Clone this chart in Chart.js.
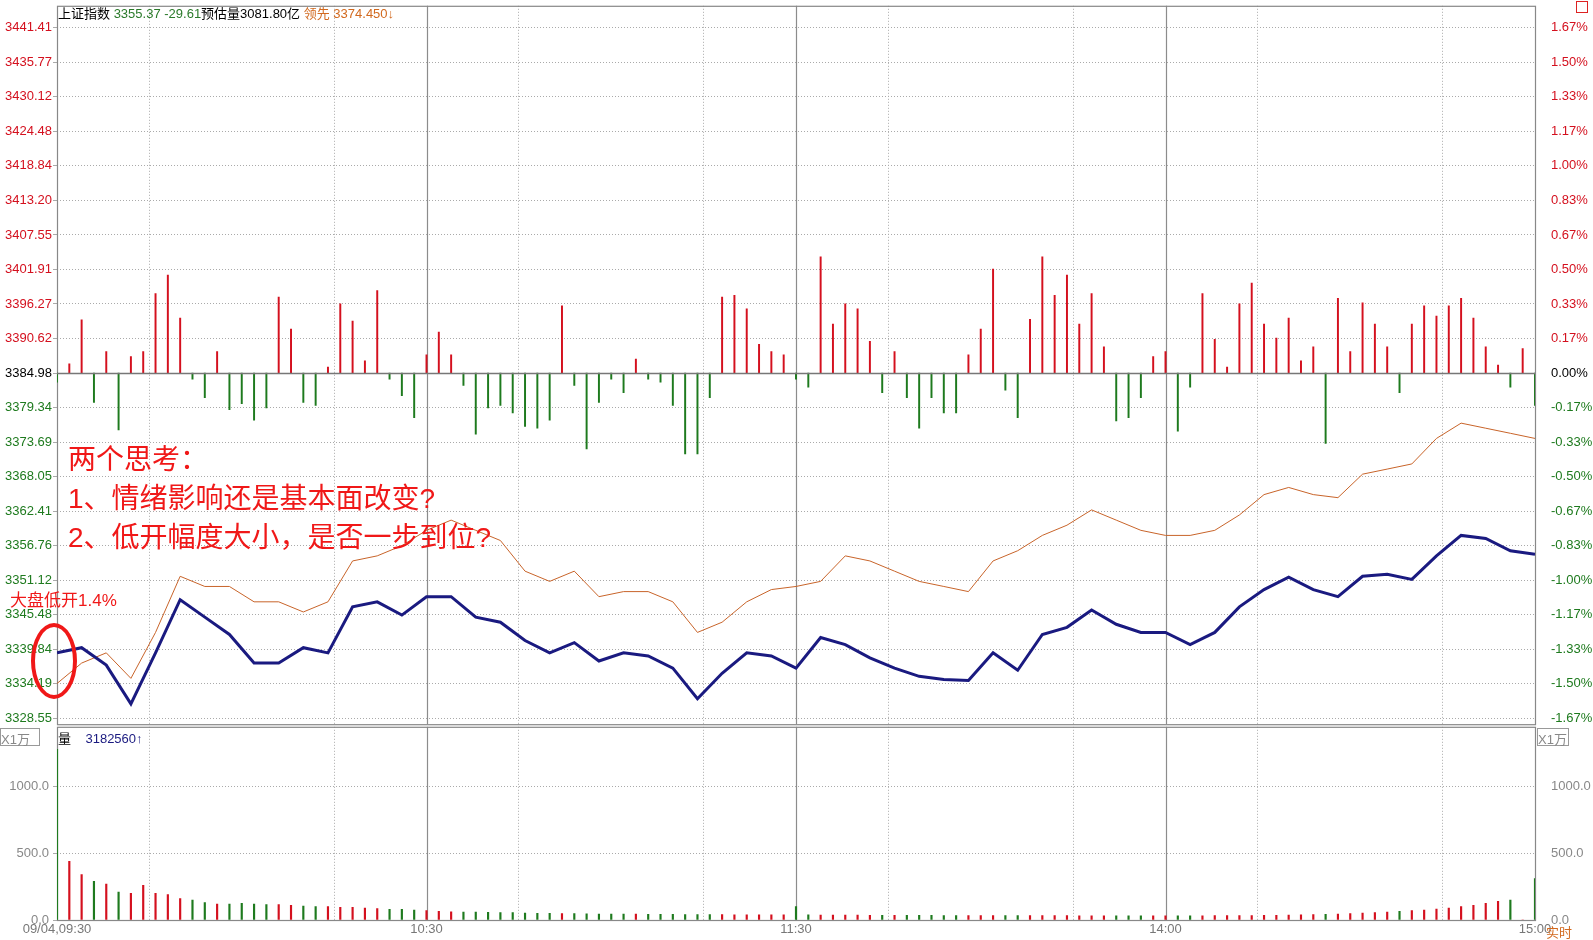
<!DOCTYPE html>
<html>
<head>
<meta charset="utf-8">
<script src="https://cdn.jsdelivr.net/npm/chart.js@4.4.0/dist/chart.umd.min.js"></script>
<style>
body{margin:0;background:#fff;font-family:"Liberation Sans",Arial,"Noto Sans CJK SC",sans-serif;}
#wrap{position:relative;width:1593px;height:940px;overflow:hidden;}
canvas{position:absolute;left:0;}
.t{position:absolute;white-space:nowrap;}
</style>
</head>
<body>
<div id="wrap">
<canvas id="top" style="top:-10px" width="1593" height="750"></canvas>
<canvas id="vol" style="top:711px" width="1593" height="229"></canvas>
<div class="t" style="left:58px;top:3px;font-size:13px;"><span>上证指数</span> <span style="color:#2a7a2a">3355.37 -29.61</span><span>预估量3081.80亿</span> <span style="color:#d2691e">领先 3374.450↓</span></div>
<div class="t" style="left:58px;top:728px;font-size:13px;">量 &nbsp; &nbsp;<span style="color:#1a1a80">3182560↑</span></div>
<div class="t" style="left:0;top:728px;width:38px;height:16px;border:1px solid #999;color:#888;font-size:13px;">X1万</div>
<div class="t" style="left:1537px;top:728px;width:30px;height:16px;border:1px solid #999;color:#888;font-size:13px;">X1万</div>
<div class="t" style="left:1546px;top:922px;color:#d2691e;font-size:13px;">实时</div>
<div class="t" style="left:1576px;top:1px;width:10px;height:10px;border:1px solid #d22;"></div>
<div class="t" style="left:68px;top:440px;color:#f01818;font-size:28px;line-height:39px;">两个思考：<br>1、情绪影响还是基本面改变?<br>2、低开幅度大小，是否一步到位?</div>
<div class="t" style="left:10px;top:586px;color:#f01818;font-size:17px;">大盘低开1.4%</div>
<div class="t" style="left:31px;top:623px;width:38px;height:68px;border:4px solid #f01818;border-radius:50%;"></div>
</div>
<script>
const BASE = 3384.98;
const leftTicks = [3441.41,3435.77,3430.12,3424.48,3418.84,3413.20,3407.55,3401.91,3396.27,3390.62,3384.98,3379.34,3373.69,3368.05,3362.41,3356.76,3351.12,3345.48,3339.84,3334.19,3328.55];
const rightTicks = ['1.67%','1.50%','1.33%','1.17%','1.00%','0.83%','0.67%','0.50%','0.33%','0.17%','0.00%','-0.17%','-0.33%','-0.50%','-0.67%','-0.83%','-1.00%','-1.17%','-1.33%','-1.50%','-1.67%'];
const timeLabels = {0:'09/04,09:30',60:'10:30',120:'11:30',180:'14:00',240:'15:00'};

// index price, one value every 4 minutes
const indexPrice = [3339.26,3340.10,3337.26,3330.92,3339.26,3347.94,3345.10,3342.26,3337.59,3337.59,3340.10,3339.26,3346.77,3347.60,3345.43,3348.44,3348.44,3345.10,3344.27,3341.27,3339.26,3340.93,3337.93,3339.26,3338.76,3336.76,3331.75,3335.92,3339.26,3338.76,3336.76,3341.77,3340.60,3338.43,3336.76,3335.42,3334.92,3334.76,3339.26,3336.42,3342.26,3343.43,3346.27,3343.93,3342.60,3342.60,3340.60,3342.60,3346.77,3349.60,3351.61,3349.60,3348.44,3351.77,3352.11,3351.27,3355.11,3358.45,3357.95,3355.95,3355.37];
// leading index, one value every 4 minutes
const leadPrice = [3334.25,3337.59,3339.26,3335.09,3342.60,3351.77,3350.11,3350.11,3347.60,3347.60,3345.94,3347.60,3354.28,3355.11,3356.78,3359.28,3360.95,3359.28,3357.62,3352.61,3350.94,3352.61,3348.44,3349.27,3349.27,3347.60,3342.60,3344.27,3347.60,3349.60,3350.11,3350.94,3355.11,3354.28,3352.61,3350.94,3350.11,3349.27,3354.28,3355.95,3358.45,3360.12,3362.62,3360.95,3359.28,3358.45,3358.45,3359.28,3361.79,3365.12,3366.29,3365.12,3364.62,3368.46,3369.29,3370.13,3374.30,3376.80,3375.97,3375.14,3374.30];
// buy/sell strength bars (index points from prev close), every 2 minutes
const strength = [-1.5,1.5,8.7,-4.8,3.5,-9.3,2.7,3.5,13,16,9,-1,-4,3.5,-6,-5,-7.7,-5.7,12.4,7.2,-4.8,-5.3,1,11.3,8.5,2,13.5,-1,-3.7,-7.3,3,6.7,3,-2,-10,-5.7,-5.3,-6.5,-8.7,-9,-7.7,11,-2,-12.4,-4.8,-1,-3.2,2.3,-1,-1.5,-5.3,-13.2,-13.2,-4,12.4,12.7,10.5,4.7,3.5,3,-1,-2.3,19,8,11.3,10.5,5.2,-3.2,3.5,-4,-9,-4,-6.5,-6.5,3,7.2,17,-2.8,-7.3,8.8,19,12.7,16,8,13,4.3,-7.8,-7.3,-4,2.7,3.5,-9.5,-2.3,13,5.5,1,11.3,14.7,8,5.7,9,2,4.3,-11.5,12.2,3.5,11.5,8,4.3,-3.2,8,11,9.3,11,12.2,9,4.3,1.3,-2.3,4,-5.3];
// volume in 万, every 2 minutes
const volume = [1280,440,340,290,270,210,200,260,200,190,160,150,130,120,120,125,120,115,115,110,105,100,100,95,95,90,85,80,80,75,70,65,62,60,60,58,55,55,52,50,50,48,48,46,45,45,44,44,42,42,42,40,40,40,40,38,38,38,38,38,100,38,36,36,36,36,35,35,35,35,35,35,34,34,34,34,34,33,33,33,33,33,33,32,32,32,32,32,32,32,32,32,32,32,33,33,34,34,35,35,36,38,40,42,45,48,52,56,60,65,70,75,82,90,100,110,125,140,150,0,310];

const RED = '#d4101e', GREEN = '#1e7a1e';
const pt4 = arr => arr.map((v,i)=>({x:i*4,y:v}));
const pt2 = arr => arr.map((v,i)=>({x:i*2,y:v}));

const hourLines = {
  id:'hourLines',
  beforeDatasetsDraw(chart){
    const {ctx, chartArea:a, scales:{x}} = chart;
    ctx.save(); ctx.strokeStyle='#8c8c8c'; ctx.lineWidth=1.2;
    [60,120,180].forEach(m=>{const px=Math.round(x.getPixelForValue(m))+0.5;ctx.beginPath();ctx.moveTo(px,a.top);ctx.lineTo(px,a.bottom);ctx.stroke();});
    ctx.strokeStyle='#888'; ctx.strokeRect(a.left+0.5,a.top+0.5,a.width,a.height);
    ctx.restore();
  }
};
const baseLine = {
  id:'baseLine',
  afterDatasetsDraw(chart){
    const {ctx, chartArea:a, scales:{y}} = chart;
    if(!chart.options.plugins.baseLine) return;
    const py = Math.round(y.getPixelForValue(BASE))+0.5;
    ctx.save(); ctx.strokeStyle='#777'; ctx.lineWidth=1.5;
    ctx.beginPath(); ctx.moveTo(a.left,py); ctx.lineTo(a.right,py); ctx.stroke(); ctx.restore();
  }
};

const tickColor = ctx => { const v = leftTicks[ctx.index]; return v > BASE ? RED : (v < BASE ? GREEN : '#000'); };
const xScale = (showLabels) => ({
  type:'linear', min:0, max:240, offset:false,
  afterBuildTicks: ax => { ax.ticks = [0,30,60,90,120,150,180,210,240].map(v=>({value:v})); },
  afterFit: ax => { ax.height = showLabels ? 20 : 0; },
  grid:{color:'#aaa', lineWidth:1, drawTicks:false}, border:{display:false, dash:[1,2]},
  ticks:{display:showLabels, color:'#777', font:{size:13}, maxRotation:0, autoSkip:false, padding:2,
    callback: v => timeLabels[v] || ''}
});

Chart.defaults.font.family = '"Liberation Sans", Arial, sans-serif';
Chart.defaults.animation = false;

new Chart(document.getElementById('top'), {
  data:{datasets:[
    {type:'bar', data: strength.map((v,i)=>({x:i*2, y:[BASE, BASE+v]})), backgroundColor: strength.map(v=>v>=0?RED:GREEN), barThickness:1.3, order:3},
    {type:'line', data: pt4(leadPrice), borderColor:'#c8642a', borderWidth:1, pointRadius:0, tension:0, order:2},
    {type:'line', data: pt4(indexPrice), borderColor:'#1a1a80', borderWidth:3, pointRadius:0, tension:0, order:1}
  ]},
  options:{responsive:false, layout:{padding:{top:5,bottom:2}},
    plugins:{legend:{display:false}, tooltip:{enabled:false}, baseLine:true},
    scales:{
      x: xScale(false),
      y:{min:3327.6, max:3445.0, position:'left',
        afterBuildTicks: ax => { ax.ticks = leftTicks.map(v=>({value:v})); },
        afterFit: ax => { ax.width = 57; },
        grid:{color:'#aaa', drawTicks:true, tickLength:4}, border:{display:false, dash:[1,2]},
        ticks:{color:tickColor, font:{size:13}, padding:1, callback:(v,i)=>leftTicks[i].toFixed(2)}},
      y1:{min:3327.6, max:3445.0, position:'right',
        afterBuildTicks: ax => { ax.ticks = leftTicks.map(v=>({value:v})); },
        afterFit: ax => { ax.width = 58; },
        grid:{display:false}, border:{display:false},
        ticks:{color:tickColor, font:{size:13}, padding:8, callback:(v,i)=>rightTicks[i]}}
    }
  },
  plugins:[hourLines, baseLine]
});

new Chart(document.getElementById('vol'), {
  data:{datasets:[
    {type:'bar', data: pt2(volume), backgroundColor: strength.map(v=>v>=0?RED:GREEN), barThickness:1.5}
  ]},
  options:{responsive:false, layout:{padding:{top:2,bottom:0}},
    plugins:{legend:{display:false}, tooltip:{enabled:false}},
    scales:{
      x: xScale(true),
      y:{min:0, max:1448, position:'left',
        afterBuildTicks: ax => { ax.ticks = [0,500,1000].map(v=>({value:v})); },
        afterFit: ax => { ax.width = 57; },
        grid:{color:'#aaa', tickLength:4}, border:{display:false, dash:[1,2]},
        ticks:{color:'#888', font:{size:13}, padding:4, callback:v=>v.toFixed(1)}},
      y1:{min:0, max:1448, position:'right',
        afterBuildTicks: ax => { ax.ticks = [0,500,1000].map(v=>({value:v})); },
        afterFit: ax => { ax.width = 58; },
        grid:{display:false}, border:{display:false},
        ticks:{color:'#888', font:{size:13}, padding:8, callback:v=>v.toFixed(1)}}
    }
  },
  plugins:[hourLines]
});
</script>
</body>
</html>
